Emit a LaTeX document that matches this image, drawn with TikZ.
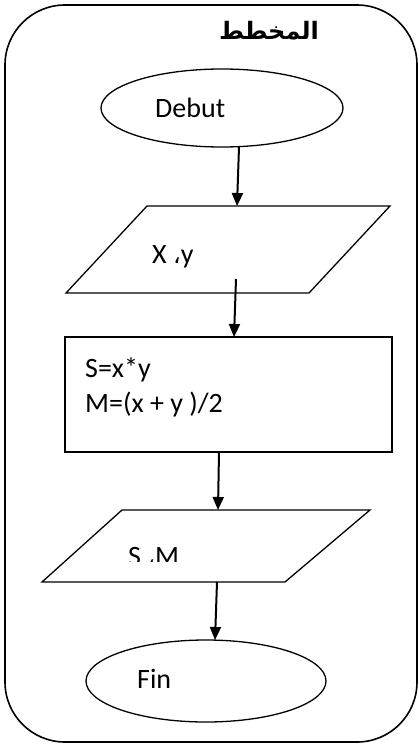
\documentclass[tikz,border=0pt]{standalone}
\usepackage{fontspec}
\setmainfont{Carlito}
\newfontfamily\arabicfont[Script=Arabic]{DejaVu Sans}
\TeXXeTstate=1
\usetikzlibrary{shapes.geometric,arrows.meta}
\begin{document}
\begin{tikzpicture}[x=1pt,y=-1pt,
  shape line/.style={draw=black,line width=1.3pt},
  flow arrow/.style={draw=black,line width=2pt,-{Triangle[width=11pt,length=13pt]}},
  label text/.style={inner sep=0pt,anchor=base west,font=\fontsize{28}{35}\selectfont}]
\useasboundingbox (0,0) rectangle (419,744);
% outer frame
\draw[line width=1.6pt,rounded corners=60pt] (5,5) rectangle (417,742);
% title
\node[inner sep=0pt] (title) at (269,31) {\arabicfont\bfseries\fontsize{24}{28}\selectfont\beginR المخطط\endR};
% start
\node[ellipse,shape line,minimum width=242pt,minimum height=78pt,inner sep=0pt] (debut) at (222,108) {};
\node[label text] (debutlbl) at (155,117) {Debut};
% input
\draw[shape line] (147,206) -- (390,206) -- (309,293) -- (66,293) -- cycle;
\node[label text] (inlbl) at (152,263) {X {\arabicfont\fontsize{24}{26}\selectfont ،}y};
% process
\node[rectangle,shape line,minimum width=327pt,minimum height=115pt,inner sep=0pt] (proc) at (228.5,394.5) {};
\node[label text] (proclbla) at (85,377) {S=x*y};
\node[label text] (proclblb) at (85,412) {M=(x + y )/2};
% output
\draw[shape line] (122,510) -- (370,510) -- (285,582) -- (42,582) -- cycle;
\begin{scope}
\clip (100,530) rectangle (300,561);
\node[label text] (outlbl) at (128,565) {S {\arabicfont\fontsize{24}{26}\selectfont ،}M};
\end{scope}
% end
\node[ellipse,shape line,minimum width=240pt,minimum height=82pt,inner sep=0pt] (fin) at (206,681) {};
\node[label text] (finlbl) at (137,688) {Fin};
% connectors
\coordinate (a1s) at (239,147);
\coordinate (a1e) at (237,206);
\coordinate (a2s) at (236,279);
\coordinate (a2e) at (234,337);
\coordinate (a3s) at (219,452);
\coordinate (a3e) at (218,510);
\coordinate (a4s) at (217,582);
\coordinate (a4e) at (215,640);
\draw[flow arrow] (a1s) -- (a1e);
\draw[flow arrow] (a2s) -- (a2e);
\draw[flow arrow] (a3s) -- (a3e);
\draw[flow arrow] (a4s) -- (a4e);
\end{tikzpicture}
\end{document}
